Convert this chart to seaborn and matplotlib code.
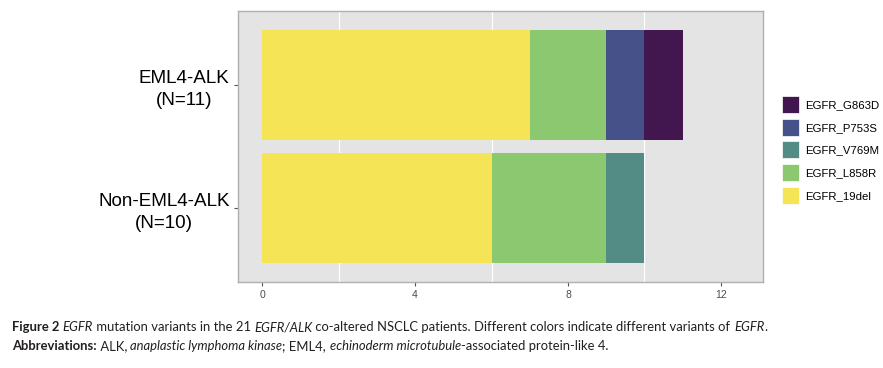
import matplotlib
matplotlib.use("Agg")
import matplotlib.pyplot as plt
import seaborn as sns
import pandas as pd
import numpy as np
from matplotlib.patches import Patch
from matplotlib.ticker import FixedLocator

# ---- data ----
groups = ["EML4-ALK\n(N=11)", "Non-EML4-ALK\n(N=10)"]
variants = ["EGFR_19del", "EGFR_L858R", "EGFR_V769M", "EGFR_P753S", "EGFR_G863D"]
eml4_counts = [7, 2, 0, 1, 1]
non_eml4_counts = [6, 3, 1, 0, 0]
colors = ["#F5E455", "#8BC870", "#528C84", "#465089", "#42174F"]
x_ticks = [0, 4, 8, 12]
grid_lines = [2, 6, 10]

rows = []
for g, counts in zip(groups, [eml4_counts, non_eml4_counts]):
    cum = np.cumsum(counts)
    for v, c, s in zip(variants, counts, cum):
        if c > 0:
            rows.append(dict(group=g, variant=v, count=c, end=s))
df = pd.DataFrame(rows)

W, H = 883, 368
fig = plt.figure(figsize=(W / 100, H / 100), dpi=100)
ax = fig.add_axes([238 / W, 1 - 282 / H, 525 / W, 271 / H])
ax.set_facecolor("#E4E4E4")

# stacked bars: draw cumulative ends from outermost to innermost
for v, col in reversed(list(zip(variants, colors))):
    sub = df[df["variant"] == v]
    if sub.empty:
        continue
    sns.barplot(data=sub, x="end", y="group", order=groups, color=col,
                width=0.89, ax=ax, orient="h", saturation=1,
                edgecolor="none", linewidth=0, errorbar=None)

ax.set_xlim(-0.63, 13.1)
ax.set_ylim(1.6, -0.6)
ax.set_xlabel("")
ax.set_ylabel("")

ax.set_xticks(x_ticks)
ax.set_xticklabels([str(t) for t in x_ticks])
ax.xaxis.set_minor_locator(FixedLocator(grid_lines))
ax.grid(False)
ax.grid(which="minor", axis="x", color="white", lw=0.9)
ax.set_axisbelow(True)
ax.tick_params(axis="x", which="major", labelsize=7.5, colors="#555555",
               labelcolor="#4D4D4D", length=3, width=0.8, pad=3)
ax.tick_params(axis="x", which="minor", length=0)
ax.tick_params(axis="y", labelsize=13.6, labelcolor="black", colors="#555555",
               length=3, width=0.8, pad=3)
for lab in ax.get_yticklabels():
    lab.set_multialignment("center")
    lab.set_linespacing(1.4)
    lab.set_family(["Liberation Sans", "DejaVu Sans"])
for lab in ax.get_xticklabels():
    lab.set_family(["Liberation Sans", "DejaVu Sans"])
for s in ax.spines.values():
    s.set_color("#B0B0B0")
    s.set_linewidth(1.0)

# legend
handles = [Patch(facecolor=c, edgecolor="white", linewidth=0.5, label=v)
           for v, c in reversed(list(zip(variants, colors)))]
fig.legend(handles=handles, loc="upper left",
           bbox_to_anchor=(782 / W, 1 - 96 / H), frameon=False,
           prop={"family": "Liberation Sans", "size": 8.2},
           handlelength=1.49, handleheight=1.92, handletextpad=0.5,
           labelspacing=0.5, borderpad=0, borderaxespad=0)

# caption
line1 = [("Figure 2 ", "normal", "bold"), ("EGFR", "italic", "normal"),
         (" mutation variants in the 21 ", "normal", "normal"),
         ("EGFR/ALK", "italic", "normal"),
         (" co-altered NSCLC patients. Different colors indicate different variants of ", "normal", "normal"),
         ("EGFR", "italic", "normal"), (".", "normal", "normal")]
line2 = [("Abbreviations:", "normal", "bold"), (" ALK, ", "normal", "normal"),
         ("anaplastic lymphoma kinase", "italic", "normal"),
         ("; EML4, ", "normal", "normal"),
         ("echinoderm microtubule", "italic", "normal"),
         ("-associated protein-like 4.", "normal", "normal")]
cap_family = "Lato"
renderer = fig.canvas.get_renderer()


def piece_width(txt, style, weight, size):
    t1 = fig.text(0, 0, "x" + txt + "x", fontsize=size, style=style,
                  weight=weight, family=cap_family)
    t2 = fig.text(0, 0, "xx", fontsize=size, style=style,
                  weight=weight, family=cap_family)
    w = t1.get_window_extent(renderer).width - t2.get_window_extent(renderer).width
    t1.remove()
    t2.remove()
    return w


def draw_line(pieces, x_px, y_px, size):
    x = x_px
    for txt, style, weight in pieces:
        fig.text(x / W, 1 - y_px / H, txt, fontsize=size, style=style,
                 weight=weight, family=cap_family, color="#231F20",
                 va="baseline", ha="left")
        x += piece_width(txt, style, weight, size)


base = 9.0
w1 = sum(piece_width(t, s, w, base) for t, s, w in line1)
size = base * (759 / w1)
draw_line(line1, 12, 331, size)
draw_line(line2, 12, 350, size)

fig.savefig("out.png", dpi=100)
